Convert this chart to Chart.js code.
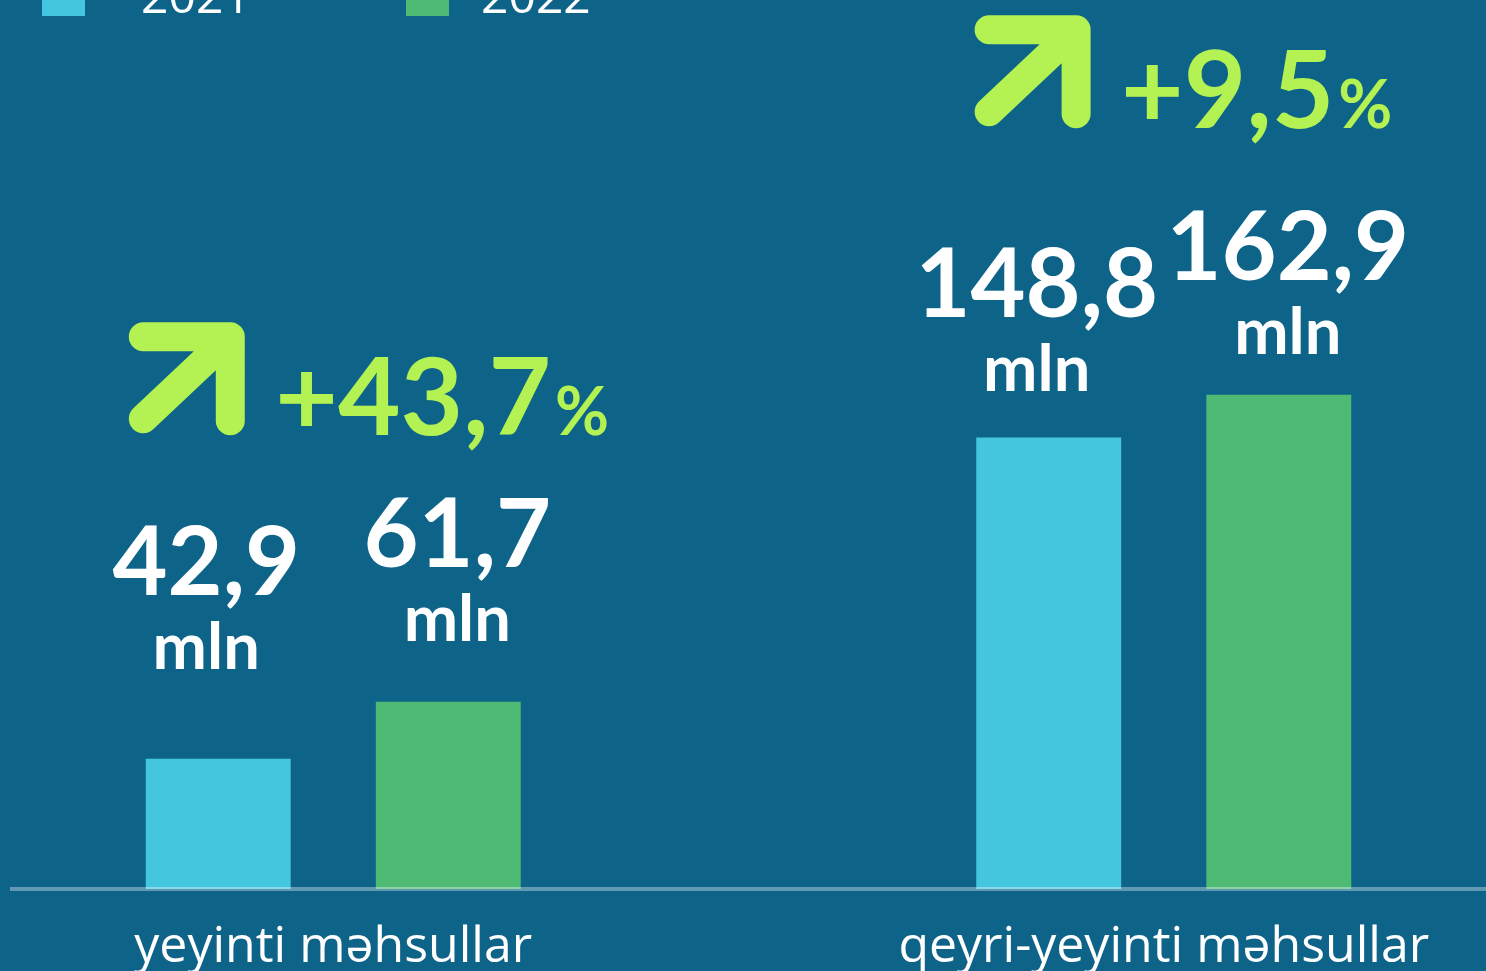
<!DOCTYPE html>
<html>
<head>
<meta charset="utf-8">
<script src="https://cdn.jsdelivr.net/npm/chart.js@4"></script>
<style>
  html, body { margin: 0; padding: 0; width: 1486px; height: 971px; overflow: hidden; background: #0e6389; }
  #wrap { position: absolute; left: -82px; top: 0; }
  #legend { position: absolute; left: 42px; top: -27px; display: flex; font-family: "Open Sans", sans-serif; font-size: 48px; color: #fff; }
  .item { display: flex; width: 364px; }
  .box { width: 43px; height: 43px; margin-right: 56px; }
  .item:nth-child(2) .box { margin-right: 32px; }
  .txt { line-height: 43px; }
</style>
</head>
<body>
<div id="wrap"><canvas id="salesChart" width="1661" height="1007"></canvas></div>
<div id="legend"></div>
<script>
const categories = ["yeyinti məhsullar", "qeyri-yeyinti məhsullar"];
const years = ["2021", "2022"];
const values2021 = [42.9, 148.8];
const values2022 = [61.7, 162.9];
const growthPct = [43.7, 9.5];
const colors = ["#44c6e0", "#4fba73"];

const lime = "#b3f252";
const fmt = v => v.toFixed(1).replace(".", ",");

// light line over the bars at zero
const baseLine = {
  id: "baseLine",
  afterDatasetsDraw(chart) {
    const c = chart.ctx;
    const y = chart.scales.y.getPixelForValue(0);
    c.save();
    c.strokeStyle = "rgba(255,255,255,0.35)";
    c.lineWidth = 4;
    c.beginPath();
    c.moveTo(92, y);
    c.lineTo(chart.width, y);
    c.stroke();
    c.restore();
  }
};

// "42,9" + "mln" above each bar; the labels sit by hand in the original, so lift per bar
const labelLift = [[90, 47], [61, 41]];
const valueLabels = {
  id: "valueLabels",
  afterDatasetsDraw(chart) {
    const c = chart.ctx;
    c.save();
    c.fillStyle = "#fff";
    c.textAlign = "center";
    c.textBaseline = "alphabetic";
    chart.data.datasets.forEach((ds, i) => {
      const dx = i === 0 ? -12 : 9;
      chart.getDatasetMeta(i).data.forEach((bar, j) => {
        const base = bar.y - labelLift[i][j];
        c.font = "bold 95px Lato";
        c.fillText(fmt(ds.data[j]), bar.x + dx, base - 74);
        c.font = "bold 65px Lato";
        c.fillText("mln", bar.x + dx, base);
      });
    });
    c.restore();
  }
};

// green arrow with growth percentage above each group
const growthShift = [36, 20];
const growthLabels = {
  id: "growthLabels",
  afterDatasetsDraw(chart) {
    const c = chart.ctx;
    const metas = chart.data.datasets.map((d, i) => chart.getDatasetMeta(i));
    c.save();
    growthPct.forEach((g, i) => {
      const top = Math.min(...metas.map(m => m.data[i].y));
      const base = top - 267;
      const num = "+" + fmt(g);
      c.font = "bold 108px Lato";
      const wNum = c.measureText(num).width;
      c.font = "bold 66px Lato";
      const wPct = c.measureText("%").width;
      const total = 115 + 31 + wNum + 4 + wPct;
      let x = chart.scales.x.getPixelForValue(i) + growthShift[i] - total / 2;

      // arrow
      c.strokeStyle = lime;
      c.lineWidth = 29;
      c.lineCap = "round";
      c.lineJoin = "round";
      c.beginPath();
      c.moveTo(x + 14, base - 98);
      c.lineTo(x + 101, base - 98);
      c.lineTo(x + 101, base - 14);
      c.moveTo(x + 101, base - 98);
      c.lineTo(x + 14, base - 16);
      c.stroke();

      x += 115 + 31;
      c.fillStyle = lime;
      c.textAlign = "left";
      c.textBaseline = "alphabetic";
      c.font = "bold 108px Lato";
      c.fillText(num, x, base);
      c.font = "bold 66px Lato";
      c.fillText("%", x + wNum + 4, base);
    });
    c.restore();
  }
};

function build() {
  const chart = new Chart(document.getElementById("salesChart"), {
    type: "bar",
    data: {
      labels: categories,
      datasets: [
        { label: years[0], data: values2021, backgroundColor: colors[0] },
        { label: years[1], data: values2022, backgroundColor: colors[1] }
      ]
    },
    options: {
      responsive: false,
      animation: false,
      devicePixelRatio: 1,
      layout: { padding: 0 },
      datasets: { bar: { barPercentage: 0.63, categoryPercentage: 0.554, borderWidth: 0 } },
      plugins: { legend: { display: false }, tooltip: { enabled: false } },
      scales: {
        x: {
          grid: { display: false, drawTicks: false },
          border: { display: false },
          ticks: { color: "#fff", padding: 29, font: { family: "Open Sans", size: 50, weight: "normal" } }
        },
        y: { display: false, min: 0, max: 293 }
      }
    },
    plugins: [baseLine, valueLabels, growthLabels]
  });

  // legend built from the datasets
  const legend = document.getElementById("legend");
  chart.data.datasets.forEach(ds => {
    const item = document.createElement("div");
    item.className = "item";
    item.innerHTML = '<span class="box" style="background:' + ds.backgroundColor + '"></span><span class="txt">' + ds.label + "</span>";
    legend.appendChild(item);
  });
}

Promise.all([
  document.fonts.load("bold 94px Lato"),
  document.fonts.load("50px 'Open Sans'")
]).then(build, build);
</script>
</body>
</html>
